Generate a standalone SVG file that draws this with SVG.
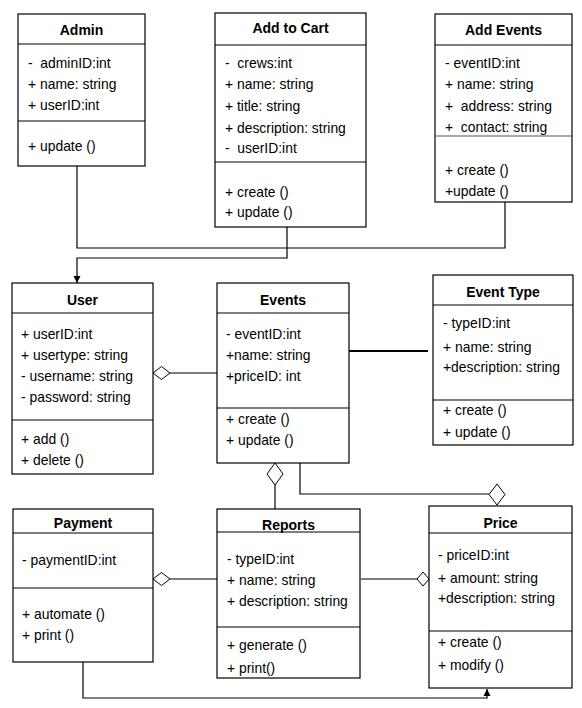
<svg xmlns="http://www.w3.org/2000/svg" width="582" height="708" viewBox="0 0 582 708">
<style>
.box{fill:#fff;stroke:#000;stroke-width:1.2}
.ln{stroke:#000;stroke-width:1.2;fill:none}
.ti{font-family:"Liberation Sans",Arial,sans-serif;font-size:14px;font-weight:bold;text-anchor:middle;fill:#000}
.tx{font-family:"Liberation Sans",Arial,sans-serif;font-size:13.9px;fill:#000;white-space:pre}
.dia{fill:#fff;stroke:#000;stroke-width:1}
</style>
<defs>
<marker id="arr" markerWidth="8" markerHeight="8" refX="7" refY="4" orient="auto" markerUnits="userSpaceOnUse">
<path d="M0,0.5 L7,4 L0,7.5 Z" fill="#000"/>
</marker>
</defs>
<g id="connectors">
<polyline class="ln" points="77,166 77,248 505,248 505,200"/>
<polyline class="ln" points="287,227 287,258 77,258 77,283" marker-end="url(#arr)"/>
<line class="ln" x1="170" y1="373" x2="217" y2="373"/>
<polygon class="dia" points="153,373 161.5,366.5 170,373 161.5,379.5"/>
<line x1="349" y1="351" x2="428" y2="351" stroke="#000" stroke-width="2.2"/>
<line class="ln" x1="275" y1="485" x2="275" y2="509"/>
<polygon class="dia" points="275,463 283,474 275,485 267,474"/>
<polyline class="ln" points="300,463 300,494 489,494"/>
<polygon class="dia" points="497,484 505,494.5 497,505 489,494.5"/>
<line class="ln" x1="170" y1="579" x2="217" y2="579"/>
<polygon class="dia" points="153,579 161.5,572.5 170,579 161.5,585.5"/>
<line class="ln" x1="361" y1="579" x2="417" y2="579"/>
<polygon class="dia" points="417,579 423,572 429,579 423,586"/>
<polyline class="ln" points="83,662 83,698 487,698 487,689" marker-end="url(#arr)"/>
</g>
<g id="admin">
<rect class="box" x="18" y="14" width="127" height="152"/>
<line class="ln" x1="18" y1="44" x2="145" y2="44"/>
<line class="ln" x1="18" y1="121" x2="145" y2="121"/>
<text class="ti" x="81.5" y="35">Admin</text>
<text class="tx" x="28" y="68">-  adminID:int</text>
<text class="tx" x="28" y="89">+ name: string</text>
<text class="tx" x="28" y="110">+ userID:int</text>
<text class="tx" x="28" y="151">+ update ()</text>
</g>
<g id="addtocart">
<rect class="box" x="215" y="13" width="151" height="214"/>
<line class="ln" x1="215" y1="45" x2="366" y2="45"/>
<line class="ln" x1="215" y1="162" x2="366" y2="162"/>
<text class="ti" x="290.5" y="33">Add to Cart</text>
<text class="tx" x="225" y="68">-  crews:int</text>
<text class="tx" x="225" y="89">+ name: string</text>
<text class="tx" x="225" y="111">+ title: string</text>
<text class="tx" x="225" y="133">+ description: string</text>
<text class="tx" x="225" y="153">-  userID:int</text>
<text class="tx" x="225" y="197">+ create ()</text>
<text class="tx" x="225" y="217">+ update ()</text>
</g>
<g id="addevents">
<rect class="box" x="435" y="14" width="137" height="188"/>
<line class="ln" x1="435" y1="45" x2="572" y2="45"/>
<line x1="435" y1="136" x2="572" y2="136" stroke="#555" stroke-width="1.2"/>
<text class="ti" x="503.5" y="35">Add Events</text>
<text class="tx" x="445" y="68">- eventID:int</text>
<text class="tx" x="445" y="89">+ name: string</text>
<text class="tx" x="445" y="111">+  address: string</text>
<text class="tx" x="445" y="132">+  contact: string</text>
<text class="tx" x="445" y="175">+ create ()</text>
<text class="tx" x="445" y="196">+update ()</text>
</g>
<g id="user">
<rect class="box" x="12" y="283" width="141" height="191"/>
<line class="ln" x1="12" y1="313" x2="153" y2="313"/>
<line class="ln" x1="12" y1="420" x2="153" y2="420"/>
<text class="ti" x="82.5" y="305">User</text>
<text class="tx" x="21" y="339">+ userID:int</text>
<text class="tx" x="21" y="360">+ usertype: string</text>
<text class="tx" x="21" y="381">- username: string</text>
<text class="tx" x="21" y="402">- password: string</text>
<text class="tx" x="21" y="444">+ add ()</text>
<text class="tx" x="21" y="465">+ delete ()</text>
</g>
<g id="events">
<rect class="box" x="217" y="283" width="132" height="180"/>
<line class="ln" x1="217" y1="313" x2="349" y2="313"/>
<line class="ln" x1="217" y1="408" x2="349" y2="408"/>
<text class="ti" x="283" y="305">Events</text>
<text class="tx" x="226" y="339">- eventID:int</text>
<text class="tx" x="226" y="360">+name: string</text>
<text class="tx" x="226" y="381">+priceID: int</text>
<text class="tx" x="226" y="424">+ create ()</text>
<text class="tx" x="226" y="445">+ update ()</text>
</g>
<g id="eventtype">
<rect class="box" x="433" y="275" width="140" height="170"/>
<line class="ln" x1="433" y1="305" x2="573" y2="305"/>
<line class="ln" x1="433" y1="400" x2="573" y2="400"/>
<text class="ti" x="503" y="297">Event Type</text>
<text class="tx" x="443" y="328">- typeID:int</text>
<text class="tx" x="443" y="352">+ name: string</text>
<text class="tx" x="443" y="372">+description: string</text>
<text class="tx" x="443" y="415">+ create ()</text>
<text class="tx" x="443" y="437">+ update ()</text>
</g>
<g id="payment">
<rect class="box" x="13" y="509" width="140" height="153"/>
<line class="ln" x1="13" y1="533" x2="153" y2="533"/>
<line class="ln" x1="13" y1="588" x2="153" y2="588"/>
<text class="ti" x="83" y="528">Payment</text>
<text class="tx" x="22" y="565">- paymentID:int</text>
<text class="tx" x="22" y="619">+ automate ()</text>
<text class="tx" x="22" y="640">+ print ()</text>
</g>
<g id="reports">
<rect class="box" x="217" y="509" width="143" height="169"/>
<line class="ln" x1="217" y1="532" x2="360" y2="532"/>
<line class="ln" x1="217" y1="627" x2="360" y2="627"/>
<text class="ti" x="288.5" y="530">Reports</text>
<text class="tx" x="227" y="564">- typeID:int</text>
<text class="tx" x="227" y="585">+ name: string</text>
<text class="tx" x="227" y="606">+ description: string</text>
<text class="tx" x="227" y="650">+ generate ()</text>
<text class="tx" x="227" y="673">+ print()</text>
</g>
<g id="price">
<rect class="box" x="429" y="506" width="143" height="182"/>
<line class="ln" x1="429" y1="533" x2="572" y2="533"/>
<line class="ln" x1="429" y1="631" x2="572" y2="631"/>
<text class="ti" x="500.5" y="528">Price</text>
<text class="tx" x="438" y="560">- priceID:int</text>
<text class="tx" x="438" y="583">+ amount: string</text>
<text class="tx" x="438" y="603">+description: string</text>
<text class="tx" x="438" y="647">+ create ()</text>
<text class="tx" x="438" y="670">+ modify ()</text>
</g>
</svg>
